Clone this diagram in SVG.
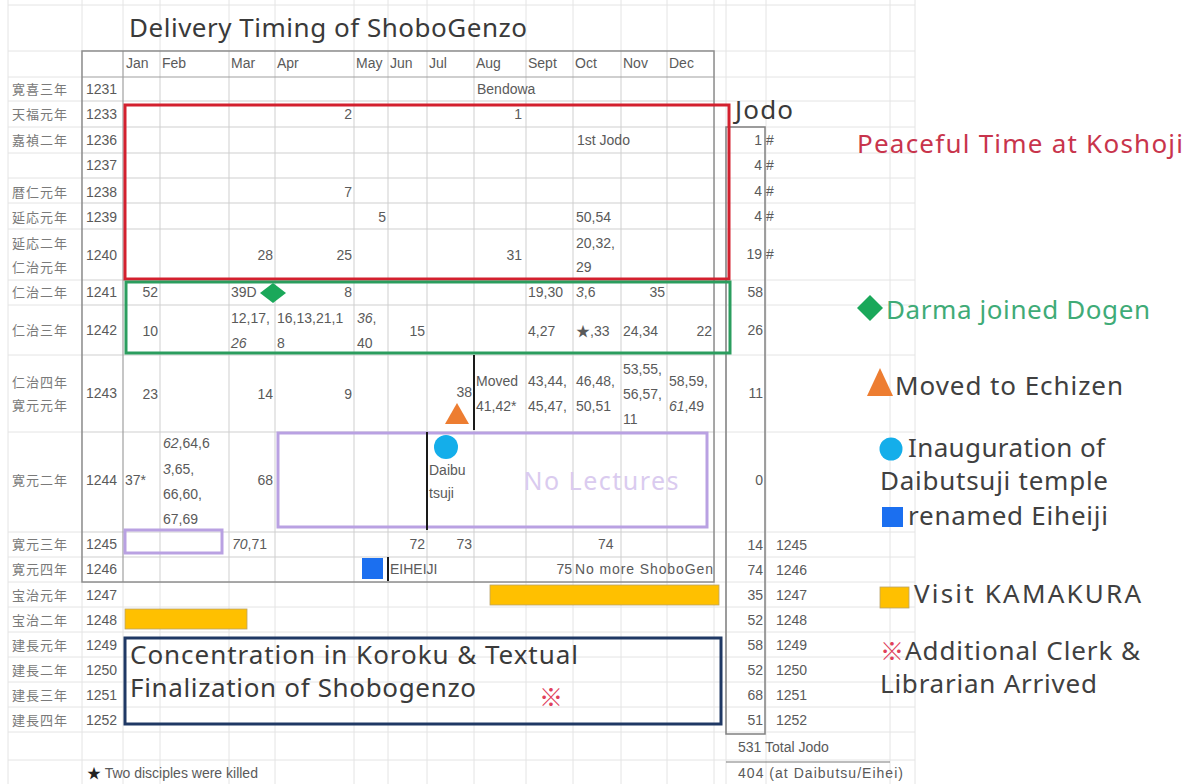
<svg xmlns="http://www.w3.org/2000/svg" width="1190" height="784" viewBox="0 0 1190 784">
<style>
.fg{stroke:#e4e4e4;stroke-width:1}
.ig{stroke:#cfcfcf;stroke-width:1}
.dk{stroke:#8c8c8c;stroke-width:1.5;fill:none}
.t{font-family:"Liberation Sans","Noto Sans",sans-serif;font-size:14px;fill:#5a5a5a}
.r{text-anchor:end}
.i{font-style:italic}
.era{font-family:"Noto Sans CJK JP","Noto Sans CJK SC",sans-serif;font-size:13px;fill:#7a7a7a;letter-spacing:1px}
.big{font-family:"Noto Sans","Liberation Sans",sans-serif;font-size:26px;fill:#3a3a3a}
.lg{font-family:"Noto Sans","Liberation Sans",sans-serif;font-size:26px;fill:#404040}
.cjk{font-family:"Noto Sans CJK JP",sans-serif}
</style>
<rect x="0" y="0" width="1190" height="784" fill="#ffffff"/>

<g id="background-grid">
  <g class="fg">
    <line x1="8" y1="5" x2="915" y2="5"/><line x1="8" y1="51" x2="915" y2="51"/>
    <line x1="8" y1="77" x2="915" y2="77"/><line x1="8" y1="101" x2="915" y2="101"/>
    <line x1="8" y1="127" x2="915" y2="127"/><line x1="8" y1="153" x2="915" y2="153"/>
    <line x1="8" y1="178" x2="915" y2="178"/><line x1="8" y1="203" x2="915" y2="203"/>
    <line x1="8" y1="229" x2="915" y2="229"/><line x1="8" y1="280" x2="915" y2="280"/>
    <line x1="8" y1="305" x2="915" y2="305"/><line x1="8" y1="355" x2="915" y2="355"/>
    <line x1="8" y1="432" x2="915" y2="432"/><line x1="8" y1="532" x2="915" y2="532"/>
    <line x1="8" y1="557" x2="915" y2="557"/><line x1="8" y1="582" x2="915" y2="582"/>
    <line x1="8" y1="607" x2="915" y2="607"/><line x1="8" y1="632" x2="915" y2="632"/>
    <line x1="8" y1="657" x2="915" y2="657"/><line x1="8" y1="682" x2="915" y2="682"/>
    <line x1="8" y1="707" x2="915" y2="707"/><line x1="8" y1="732" x2="915" y2="732"/>
    <line x1="8" y1="760" x2="915" y2="760"/>
    <line x1="8" y1="0" x2="8" y2="784"/><line x1="82" y1="0" x2="82" y2="784"/>
    <line x1="123" y1="0" x2="123" y2="784"/><line x1="160" y1="0" x2="160" y2="784"/>
    <line x1="229" y1="0" x2="229" y2="784"/><line x1="275" y1="0" x2="275" y2="784"/>
    <line x1="354" y1="0" x2="354" y2="784"/><line x1="388" y1="0" x2="388" y2="784"/>
    <line x1="427" y1="0" x2="427" y2="784"/><line x1="474" y1="0" x2="474" y2="784"/>
    <line x1="526" y1="0" x2="526" y2="784"/><line x1="573" y1="0" x2="573" y2="784"/>
    <line x1="621" y1="0" x2="621" y2="784"/><line x1="667" y1="0" x2="667" y2="784"/>
    <line x1="714" y1="0" x2="714" y2="784"/><line x1="726" y1="0" x2="726" y2="784"/>
    <line x1="766" y1="0" x2="766" y2="784"/><line x1="890" y1="0" x2="890" y2="784"/>
    <line x1="915" y1="0" x2="915" y2="784"/>
  </g>
</g>

<g id="title">
  <text class="big" x="129" y="37" textLength="398">Delivery Timing of ShoboGenzo</text>
</g>

<g id="table">
  <rect x="82" y="51" width="632" height="531" fill="#ffffff"/>
  <g class="ig">
    <line x1="160" y1="51" x2="160" y2="582"/><line x1="229" y1="51" x2="229" y2="582"/>
    <line x1="275" y1="51" x2="275" y2="582"/><line x1="354" y1="51" x2="354" y2="582"/>
    <line x1="388" y1="51" x2="388" y2="582"/><line x1="427" y1="51" x2="427" y2="582"/>
    <line x1="474" y1="51" x2="474" y2="582"/><line x1="526" y1="51" x2="526" y2="582"/>
    <line x1="573" y1="51" x2="573" y2="582"/><line x1="621" y1="51" x2="621" y2="582"/>
    <line x1="667" y1="51" x2="667" y2="582"/>
    <line x1="82" y1="101" x2="714" y2="101"/><line x1="82" y1="127" x2="714" y2="127"/>
    <line x1="82" y1="153" x2="714" y2="153"/><line x1="82" y1="178" x2="714" y2="178"/>
    <line x1="82" y1="203" x2="714" y2="203"/><line x1="82" y1="229" x2="714" y2="229"/>
    <line x1="82" y1="280" x2="714" y2="280"/><line x1="82" y1="305" x2="714" y2="305"/>
    <line x1="82" y1="355" x2="714" y2="355"/><line x1="82" y1="432" x2="714" y2="432"/>
    <line x1="82" y1="532" x2="714" y2="532"/><line x1="82" y1="557" x2="714" y2="557"/>
  </g>
  <line x1="82" y1="77" x2="714" y2="77" stroke="#a0a0a0" stroke-width="1.2"/>
  <line x1="123" y1="51" x2="123" y2="582" stroke="#a0a0a0" stroke-width="1.2"/>
  <rect class="dk" x="82" y="51" width="632" height="531"/>

  <!-- month headers -->
  <text class="t" x="126" y="68">Jan</text><text class="t" x="162" y="68">Feb</text>
  <text class="t" x="231" y="68">Mar</text><text class="t" x="277" y="68">Apr</text>
  <text class="t" x="356" y="68">May</text><text class="t" x="390" y="68">Jun</text>
  <text class="t" x="429" y="68">Jul</text><text class="t" x="476" y="68">Aug</text>
  <text class="t" x="528" y="68">Sept</text><text class="t" x="575" y="68">Oct</text>
  <text class="t" x="623" y="68">Nov</text><text class="t" x="669" y="68">Dec</text>

  <!-- era names -->
  <text class="era" x="12" y="94">寛喜三年</text>
  <text class="era" x="12" y="119">天福元年</text>
  <text class="era" x="12" y="145">嘉禎二年</text>
  <text class="era" x="12" y="197">暦仁元年</text>
  <text class="era" x="12" y="222">延応元年</text>
  <text class="era" x="12" y="248">延応二年</text>
  <text class="era" x="12" y="272">仁治元年</text>
  <text class="era" x="12" y="297">仁治二年</text>
  <text class="era" x="12" y="335">仁治三年</text>
  <text class="era" x="12" y="387">仁治四年</text>
  <text class="era" x="12" y="410">寛元元年</text>
  <text class="era" x="12" y="485">寛元二年</text>
  <text class="era" x="12" y="549">寛元三年</text>
  <text class="era" x="12" y="574">寛元四年</text>
  <text class="era" x="12" y="600">宝治元年</text>
  <text class="era" x="12" y="625">宝治二年</text>
  <text class="era" x="12" y="650">建長元年</text>
  <text class="era" x="12" y="675">建長二年</text>
  <text class="era" x="12" y="700">建長三年</text>
  <text class="era" x="12" y="725">建長四年</text>

  <!-- years -->
  <text class="t" x="86" y="94">1231</text><text class="t" x="86" y="119">1233</text>
  <text class="t" x="86" y="145">1236</text><text class="t" x="86" y="170">1237</text>
  <text class="t" x="86" y="197">1238</text><text class="t" x="86" y="222">1239</text>
  <text class="t" x="86" y="260">1240</text><text class="t" x="86" y="297">1241</text>
  <text class="t" x="86" y="335">1242</text><text class="t" x="86" y="398">1243</text>
  <text class="t" x="86" y="485">1244</text><text class="t" x="86" y="549">1245</text>
  <text class="t" x="86" y="574">1246</text><text class="t" x="86" y="600">1247</text>
  <text class="t" x="86" y="625">1248</text><text class="t" x="86" y="650">1249</text>
  <text class="t" x="86" y="675">1250</text><text class="t" x="86" y="700">1251</text>
  <text class="t" x="86" y="725">1252</text>

  <!-- 1231 -->
  <text class="t" x="477" y="94">Bendowa</text>
  <!-- 1233 -->
  <text class="t r" x="352" y="119">2</text><text class="t r" x="522" y="119">1</text>
  <!-- 1236 -->
  <text class="t" x="577" y="145">1st Jodo</text>
  <!-- 1238 -->
  <text class="t r" x="352" y="197">7</text>
  <!-- 1239 -->
  <text class="t r" x="386" y="222">5</text><text class="t" x="576" y="222">50,54</text>
  <!-- 1240 -->
  <text class="t r" x="273" y="260">28</text><text class="t r" x="352" y="260">25</text>
  <text class="t r" x="522" y="260">31</text>
  <text class="t" x="576" y="248">20,32,</text><text class="t" x="576" y="272">29</text>
  <!-- 1241 -->
  <text class="t r" x="158" y="297">52</text><text class="t" x="231" y="297">39D</text>
  <text class="t r" x="352" y="297">8</text><text class="t" x="528" y="297">19,30</text>
  <text class="t" x="576" y="297"><tspan class="i">3</tspan>,6</text>
  <text class="t r" x="665" y="297">35</text>
  <!-- 1242 -->
  <text class="t r" x="158" y="336">10</text>
  <text class="t" x="231" y="323">12,17,</text><text class="t i" x="231" y="348">26</text>
  <text class="t" x="277" y="323">16,13,21,1</text><text class="t" x="277" y="348">8</text>
  <text class="t" x="357" y="323"><tspan class="i">36</tspan>,</text><text class="t" x="357" y="348">40</text>
  <text class="t r" x="425" y="336">15</text>
  <text class="t" x="528" y="336">4,27</text>
  <text class="t" x="576" y="336"><tspan class="cjk">★</tspan>,33</text>
  <text class="t" x="623" y="336">24,34</text>
  <text class="t r" x="712" y="336">22</text>
  <!-- 1243 -->
  <text class="t r" x="158" y="399">23</text><text class="t r" x="273" y="399">14</text>
  <text class="t r" x="352" y="399">9</text><text class="t r" x="472" y="397">38</text>
  <text class="t" x="476" y="386">Moved</text><text class="t" x="476" y="411">41,42*</text>
  <text class="t" x="528" y="386">43,44,</text><text class="t" x="528" y="411">45,47,</text>
  <text class="t" x="576" y="386">46,48,</text><text class="t" x="576" y="411">50,51</text>
  <text class="t" x="623" y="374">53,55,</text><text class="t" x="623" y="399">56,57,</text>
  <text class="t" x="623" y="424">11</text>
  <text class="t" x="669" y="386">58,59,</text><text class="t" x="669" y="411"><tspan class="i">61</tspan>,49</text>
  <!-- 1244 -->
  <text class="t" x="125" y="485">37*</text>
  <text class="t" x="163" y="448"><tspan class="i">62</tspan>,64,6</text>
  <text class="t" x="163" y="474"><tspan class="i">3</tspan>,65,</text>
  <text class="t" x="163" y="499">66,60,</text>
  <text class="t" x="163" y="524">67,69</text>
  <text class="t r" x="273" y="485">68</text>
  <text class="t" x="429" y="475">Daibu</text><text class="t" x="429" y="498">tsuji</text>
  <!-- 1245 -->
  <text class="t" x="232" y="549"><tspan class="i">70</tspan>,71</text>
  <text class="t r" x="425" y="549">72</text><text class="t r" x="472" y="549">73</text>
  <text class="t" x="598" y="549">74</text>
  <!-- 1246 -->
  <text class="t" x="390" y="574">EIHEIJI</text>
  <text class="t r" x="572" y="574">75</text>
  <text class="t" x="575" y="574" textLength="138">No more ShoboGen</text>
</g>

<g id="jodo-column">
  <text class="big" x="735" y="119" textLength="58">Jodo</text>
  <rect x="726" y="127" width="39" height="607" fill="none" stroke="#808080" stroke-width="1.5"/>
  <text class="t r" x="762" y="145">1</text><text class="t" x="766" y="145">#</text>
  <text class="t r" x="762" y="170">4</text><text class="t" x="766" y="170">#</text>
  <text class="t r" x="762" y="196">4</text><text class="t" x="766" y="196">#</text>
  <text class="t r" x="762" y="221">4</text><text class="t" x="766" y="221">#</text>
  <text class="t r" x="762" y="259">19</text><text class="t" x="766" y="259">#</text>
  <text class="t r" x="763" y="297">58</text>
  <text class="t r" x="763" y="335">26</text>
  <text class="t r" x="763" y="398">11</text>
  <text class="t r" x="763" y="485">0</text>
  <text class="t r" x="763" y="550">14</text><text class="t" x="776" y="550">1245</text>
  <text class="t r" x="763" y="575">74</text><text class="t" x="776" y="575">1246</text>
  <text class="t r" x="763" y="600">35</text><text class="t" x="776" y="600">1247</text>
  <text class="t r" x="763" y="625">52</text><text class="t" x="776" y="625">1248</text>
  <text class="t r" x="763" y="650">58</text><text class="t" x="776" y="650">1249</text>
  <text class="t r" x="763" y="675">52</text><text class="t" x="776" y="675">1250</text>
  <text class="t r" x="763" y="700">68</text><text class="t" x="776" y="700">1251</text>
  <text class="t r" x="763" y="725">51</text><text class="t" x="776" y="725">1252</text>
  <text class="t" x="738" y="752">531 Total Jodo</text>
  <line x1="726" y1="762" x2="890" y2="762" stroke="#7a7a7a" stroke-width="1.2"/>
  <text class="t" x="738" y="778" textLength="165">404 (at Daibutsu/Eihei)</text>
</g>

<g id="period-koshoji">
  <rect x="125" y="105" width="604" height="174" fill="none" stroke="#d3202e" stroke-width="3"/>
</g>
<g id="period-darma">
  <rect x="126" y="282" width="604" height="71" fill="none" stroke="#2b9d5e" stroke-width="3"/>
  <polygon points="260,293 273,283 286,293 273,303" fill="#1aa85a"/>
</g>
<g id="move-echizen">
  <line x1="474" y1="355" x2="474" y2="430" stroke="#1a1a1a" stroke-width="2"/>
  <polygon points="445,424 457,403 469,424" fill="#ed7d31"/>
</g>
<g id="no-lectures">
  <rect x="278" y="433" width="429" height="94" fill="none" stroke="#b9a1e2" stroke-width="3"/>
  <rect x="125" y="530" width="97" height="23" fill="none" stroke="#b9a1e2" stroke-width="3"/>
  <text x="601" y="490" text-anchor="middle" font-family="Noto Sans, Liberation Sans, sans-serif" font-size="25" fill="#dacbef" textLength="155">No Lectures</text>
</g>
<g id="daibutsuji">
  <line x1="427" y1="432" x2="427" y2="530" stroke="#1a1a1a" stroke-width="2"/>
  <circle cx="446" cy="447" r="12" fill="#14aeea"/>
</g>
<g id="eiheiji">
  <rect x="362" y="558" width="21" height="21" fill="#1b6ff0"/>
  <line x1="388" y1="557" x2="388" y2="581" stroke="#1a1a1a" stroke-width="2"/>
</g>
<g id="kamakura">
  <rect x="490" y="585" width="229" height="20" fill="#ffc000" stroke="#b9a46a" stroke-width="0.8"/>
  <rect x="125" y="609" width="122" height="20" fill="#ffc000" stroke="#b9a46a" stroke-width="0.8"/>
</g>
<g id="concentration">
  <rect x="125" y="638" width="596" height="86" fill="none" stroke="#1f3864" stroke-width="3"/>
  <text class="big" x="130" y="664" font-size="27" textLength="448">Concentration in Koroku &amp; Textual</text>
  <text class="big" x="130" y="697" font-size="27" textLength="346">Finalization of Shobogenzo</text>
  <text x="539" y="706" font-family="Noto Sans CJK JP, sans-serif" font-size="24" fill="#e0405a">※</text>
</g>

<g id="footnote">
  <text class="t" x="87" y="778"><tspan class="cjk" fill="#222">★</tspan> Two disciples were killed</text>
</g>

<g id="legend">
  <g id="legend-koshoji">
    <text class="lg" x="857" y="153" fill="#c8344c" style="fill:#c8344c" textLength="326">Peaceful Time at Koshoji</text>
  </g>
  <g id="legend-darma">
    <polygon points="857,308 870,295 883,308 870,321" fill="#1aa85a"/>
    <text class="lg" x="886" y="319" style="fill:#3fab77" textLength="264">Darma joined Dogen</text>
  </g>
  <g id="legend-echizen">
    <polygon points="867,396 880,368 893,396" fill="#ed7d31"/>
    <text class="lg" x="895" y="395" textLength="228">Moved to Echizen</text>
  </g>
  <g id="legend-daibutsuji">
    <circle cx="891" cy="449" r="11.5" fill="#14aeea"/>
    <text class="lg" x="908" y="457" textLength="197">Inauguration of</text>
    <text class="lg" x="880" y="490" textLength="228">Daibutsuji temple</text>
  </g>
  <g id="legend-eiheiji">
    <rect x="882" y="507" width="21" height="20" fill="#1b6ff0"/>
    <text class="lg" x="908" y="525" textLength="200">renamed Eiheiji</text>
  </g>
  <g id="legend-kamakura">
    <rect x="880" y="587" width="29" height="21" fill="#ffc000" stroke="#b9a46a" stroke-width="0.8"/>
    <text class="lg" x="914" y="603" textLength="227">Visit KAMAKURA</text>
  </g>
  <g id="legend-clerk">
    <text x="880" y="660" font-family="Noto Sans CJK JP, sans-serif" font-size="24" fill="#e0405a">※</text>
    <text class="lg" x="905" y="660" textLength="235">Additional Clerk &amp;</text>
    <text class="lg" x="880" y="693" textLength="217">Librarian Arrived</text>
  </g>
</g>

<g id="connectors"/>
</svg>
